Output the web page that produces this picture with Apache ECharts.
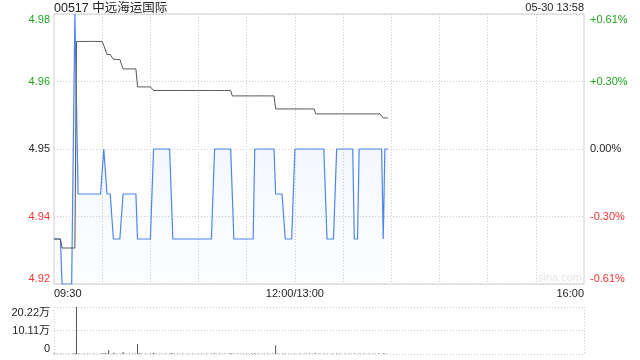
<!DOCTYPE html>
<html><head><meta charset="utf-8">
<script src="https://cdn.jsdelivr.net/npm/echarts@6/dist/echarts.min.js"></script>
<style>html,body{margin:0;padding:0;background:#fff}#c{width:640px;height:360px}</style>
</head><body><div id="c"></div>
<script>
const titleText = '00517 中远海运国际';
const stampText = '05-30 13:58';
const prevClose = 4.95;
const priceMin = 4.92;
const priceMax = 4.98;
const priceInterval = 0.015;
const xTickIndex = [0, 150, 330];
const xTickText = ['09:30', '12:00/13:00', '16:00'];
const volMax = 202200;
const volInterval = 101100;

// minute prices, 09:30 .. 13:58 (209 points)
const price = [
4.93,4.93,4.93,4.93,4.93,4.92,4.92,4.92,4.92,4.92,
4.92,4.92,4.92,4.98,4.98,4.94,4.94,4.94,4.94,4.94,
4.94,4.94,4.94,4.94,4.94,4.94,4.94,4.94,4.94,4.94,
4.94,4.95,4.95,4.94,4.94,4.94,4.94,4.93,4.93,4.93,
4.93,4.93,4.93,4.94,4.94,4.94,4.94,4.94,4.94,4.94,
4.94,4.94,4.93,4.93,4.93,4.93,4.93,4.93,4.93,4.93,
4.93,4.93,4.95,4.95,4.95,4.95,4.95,4.95,4.95,4.95,
4.95,4.95,4.95,4.95,4.93,4.93,4.93,4.93,4.93,4.93,
4.93,4.93,4.93,4.93,4.93,4.93,4.93,4.93,4.93,4.93,
4.93,4.93,4.93,4.93,4.93,4.93,4.93,4.93,4.93,4.93,
4.95,4.95,4.95,4.95,4.95,4.95,4.95,4.95,4.95,4.95,
4.95,4.95,4.93,4.93,4.93,4.93,4.93,4.93,4.93,4.93,
4.93,4.93,4.93,4.93,4.93,4.95,4.95,4.95,4.95,4.95,
4.95,4.95,4.95,4.95,4.95,4.95,4.95,4.95,4.94,4.94,
4.94,4.94,4.94,4.94,4.93,4.93,4.93,4.93,4.93,4.93,
4.95,4.95,4.95,4.95,4.95,4.95,4.95,4.95,4.95,4.95,
4.95,4.95,4.95,4.95,4.95,4.95,4.95,4.95,4.95,4.95,
4.93,4.93,4.93,4.93,4.93,4.93,4.95,4.95,4.95,4.95,
4.95,4.95,4.95,4.95,4.95,4.95,4.95,4.93,4.93,4.93,
4.95,4.95,4.95,4.95,4.95,4.95,4.95,4.95,4.95,4.95,
4.95,4.95,4.95,4.95,4.95,4.93,4.95,4.95,4.95
];

// running average price
const avgPrice = [
4.930,4.930,4.930,4.930,4.930,4.928,4.928,4.928,4.928,4.928,
4.928,4.928,4.928,4.928,4.9739,4.9739,4.9739,4.9739,4.9739,4.9739,
4.9739,4.9739,4.9739,4.9739,4.9739,4.9739,4.9739,4.9739,4.9739,4.9739,
4.9739,4.9730,4.9720,4.9710,4.9710,4.9710,4.9710,4.9699,4.9699,4.9699,
4.9699,4.9699,4.9699,4.9678,4.9678,4.9678,4.9678,4.9678,4.9678,4.9678,
4.9678,4.9678,4.9638,4.9638,4.9638,4.9638,4.9638,4.9638,4.9638,4.9638,
4.9638,4.9638,4.9630,4.9630,4.9630,4.9630,4.9630,4.9630,4.9630,4.9630,
4.9630,4.9630,4.9630,4.9630,4.9630,4.9630,4.9630,4.9630,4.9630,4.9630,
4.9630,4.9630,4.9630,4.9630,4.9630,4.9630,4.9630,4.9630,4.9630,4.9630,
4.9630,4.9630,4.9630,4.9630,4.9630,4.9630,4.9630,4.9630,4.9630,4.9630,
4.9630,4.9630,4.9630,4.9630,4.9630,4.9630,4.9630,4.9630,4.9630,4.9630,
4.9630,4.9618,4.9618,4.9618,4.9618,4.9618,4.9618,4.9618,4.9618,4.9618,
4.9618,4.9618,4.9618,4.9618,4.9618,4.9618,4.9618,4.9618,4.9618,4.9618,
4.9618,4.9618,4.9618,4.9618,4.9618,4.9618,4.9618,4.9618,4.9589,4.9589,
4.9589,4.9589,4.9589,4.9589,4.9589,4.9589,4.9589,4.9589,4.9589,4.9589,
4.9589,4.9589,4.9589,4.9589,4.9589,4.9589,4.9589,4.9589,4.9589,4.9589,
4.9589,4.9589,4.9589,4.9578,4.9578,4.9578,4.9578,4.9578,4.9578,4.9578,
4.9578,4.9578,4.9578,4.9578,4.9578,4.9578,4.9578,4.9578,4.9578,4.9578,
4.9578,4.9578,4.9578,4.9578,4.9578,4.9578,4.9578,4.9578,4.9578,4.9578,
4.9578,4.9578,4.9578,4.9578,4.9578,4.9578,4.9578,4.9578,4.9578,4.9578,
4.9578,4.9578,4.9578,4.9578,4.9578,4.9569,4.9569,4.9569,4.9569
];

// minute volume (shares)
const volume = [
3000,1000,2000,0,1000,2000,0,1000,0,2000,
0,1000,2000,4000,202200,3000,1000,0,2000,1000,
0,2000,1000,0,1000,2000,0,1000,0,2000,
3000,2000,4000,2000,17000,1000,0,5000,2000,1000,
0,2000,1000,9000,2000,0,1000,2000,0,1000,
2000,1000,43000,3000,2000,1000,0,2000,1000,0,
2000,1000,5000,2000,1000,0,2000,1000,0,2000,
1000,0,2000,4000,2000,1000,0,2000,1000,0,
2000,1000,0,2000,1000,0,2000,1000,0,2000,
1000,0,2000,1000,0,2000,1000,0,2000,1000,
3000,1000,0,2000,1000,0,2000,1000,0,2000,
3000,2000,1000,0,2000,1000,0,2000,1000,0,
2000,1000,0,2000,1000,3000,0,2000,1000,0,
2000,1000,0,2000,1000,0,2000,1000,38000,2000,
1000,0,2000,1000,2000,0,1000,2000,0,1000,
2000,1000,0,2000,1000,0,2000,1000,0,2000,
1000,0,2000,3000,0,2000,1000,0,2000,1000,
2000,1000,0,2000,1000,0,2000,1000,2000,1000,
0,2000,1000,0,2000,1000,0,2000,1000,0,
2000,1000,0,2000,1000,0,2000,1000,0,2000,
1000,0,2000,1000,0,3000,2000,1000,0
];

// minute slots: 09:30..12:00 then 13:01..16:00
const slots = [];
function hm(h, m) { return String(h).padStart(2, '0') + ':' + String(m).padStart(2, '0'); }
for (let t = 9 * 60 + 30; t <= 12 * 60; t++) slots.push(hm(Math.floor(t / 60), t % 60));
for (let t = 13 * 60 + 1; t <= 16 * 60; t++) slots.push(hm(Math.floor(t / 60), t % 60));

const GREEN = '#1ea51e', RED = '#f03434', DARK = '#222';
const FONT = '"Liberation Sans", Arial, "Noto Sans CJK SC", sans-serif';
function tone(v) {
  const d = Math.round((v - prevClose) * 10000);
  return d > 0 ? GREEN : (d < 0 ? RED : DARK);
}
// price label: offset from close truncated to whole cents
function priceLabel(v) {
  const cents = Math.trunc(Math.round((v - prevClose) * 1e6) / 1e4);
  return (prevClose + cents / 100).toFixed(2);
}

const chart = echarts.init(document.getElementById('c'), null, { renderer: 'canvas' });
chart.setOption({
  animation: false,
  backgroundColor: '#fff',
  textStyle: { fontFamily: FONT },
  title: [
    { text: titleText, left: 54, top: 2, padding: 0,
      textStyle: { fontSize: 12.5, fontWeight: 'normal', color: '#222', fontFamily: FONT } },
    { text: stampText, right: 56, top: 2, padding: 0,
      textStyle: { fontSize: 11, fontWeight: 'normal', color: '#222', fontFamily: FONT } }
  ],
  graphic: [
    { type: 'text', right: 58, top: 272, silent: true,
      style: { text: 'sina.com', fill: '#e4e4e4', font: '11px ' + FONT } }
  ],
  grid: [
    { left: 54, right: 56, top: 14, height: 270, show: true, borderColor: '#cfcfcf', borderWidth: 1 },
    { left: 54, right: 56, top: 307, height: 47, show: false }
  ],
  xAxis: [
    { type: 'category', gridIndex: 0, data: slots, boundaryGap: false,
      axisLine: { show: false }, axisTick: { show: false },
      axisLabel: {
        interval: (i) => xTickIndex.indexOf(i) >= 0,
        formatter: (v, i) => { const k = xTickIndex.indexOf(i); return k >= 0 ? xTickText[k] : ''; },
        color: '#222', fontSize: 11, margin: 4, fontFamily: FONT,
        alignMinLabel: 'left', alignMaxLabel: 'right', showMinLabel: true, showMaxLabel: true
      },
      splitLine: { show: true, interval: (i) => i > 0 && i < 330 && i % 30 === 0,
        lineStyle: { color: '#cccccc', type: [1, 2], width: 1 } }
    },
    { type: 'category', gridIndex: 1, data: slots, boundaryGap: false,
      axisLine: { show: false }, axisTick: { show: false }, axisLabel: { show: false },
      splitLine: { show: true, interval: (i) => i === 0 || i === 330,
        lineStyle: { color: '#cccccc', type: [1, 2], width: 1 } }
    }
  ],
  yAxis: [
    { type: 'value', gridIndex: 0, position: 'left', min: priceMin, max: priceMax, interval: priceInterval,
      axisLine: { show: false }, axisTick: { show: false },
      axisLabel: { formatter: (v) => priceLabel(v), color: (v) => tone(v), fontSize: 11, margin: 4, fontFamily: FONT,
        verticalAlignMinLabel: 'bottom', verticalAlignMaxLabel: 'top' },
      splitLine: { show: true, lineStyle: { color: '#cccccc', type: [1, 2], width: 1 } }
    },
    { type: 'value', gridIndex: 0, position: 'right', min: priceMin, max: priceMax, interval: priceInterval,
      axisLine: { show: false }, axisTick: { show: false },
      axisLabel: {
        formatter: (v) => { const p = (v - prevClose) / prevClose * 100; const s = Math.abs(p) < 1e-9 ? '0.00' : p.toFixed(2); return (p > 1e-9 ? '+' : '') + s + '%'; },
        color: (v) => tone(v), fontSize: 11, margin: 6, fontFamily: FONT,
        verticalAlignMinLabel: 'bottom', verticalAlignMaxLabel: 'top' },
      splitLine: { show: false }
    },
    { type: 'value', gridIndex: 1, min: 0, max: volMax, interval: volInterval,
      axisLine: { show: false }, axisTick: { show: false },
      axisLabel: { formatter: (v) => v === 0 ? '0' : (v / 10000).toFixed(2) + '万', color: '#222', fontSize: 11, margin: 4,
        fontFamily: FONT, verticalAlignMinLabel: 'bottom', verticalAlignMaxLabel: 'top' },
      splitLine: { show: true, lineStyle: { color: '#cccccc', type: [1, 2], width: 1 } }
    }
  ],
  series: [
    { name: 'price', type: 'line', xAxisIndex: 0, yAxisIndex: 0, data: price, showSymbol: false,
      lineStyle: { color: '#4a86ec', width: 1.2 },
      areaStyle: { color: new echarts.graphic.LinearGradient(0, 0, 0, 1, [
        { offset: 0, color: 'rgba(74,134,236,0.16)' }, { offset: 1, color: 'rgba(74,134,236,0.02)' }]) },
      z: 3 },
    { name: 'avg', type: 'line', xAxisIndex: 0, yAxisIndex: 0, data: avgPrice, showSymbol: false,
      lineStyle: { color: '#555', width: 1 }, z: 4 },
    { name: 'vol', type: 'bar', xAxisIndex: 1, yAxisIndex: 2, data: volume, barWidth: 1,
      itemStyle: { color: '#555' } }
  ]
});
</script>
</body></html>
